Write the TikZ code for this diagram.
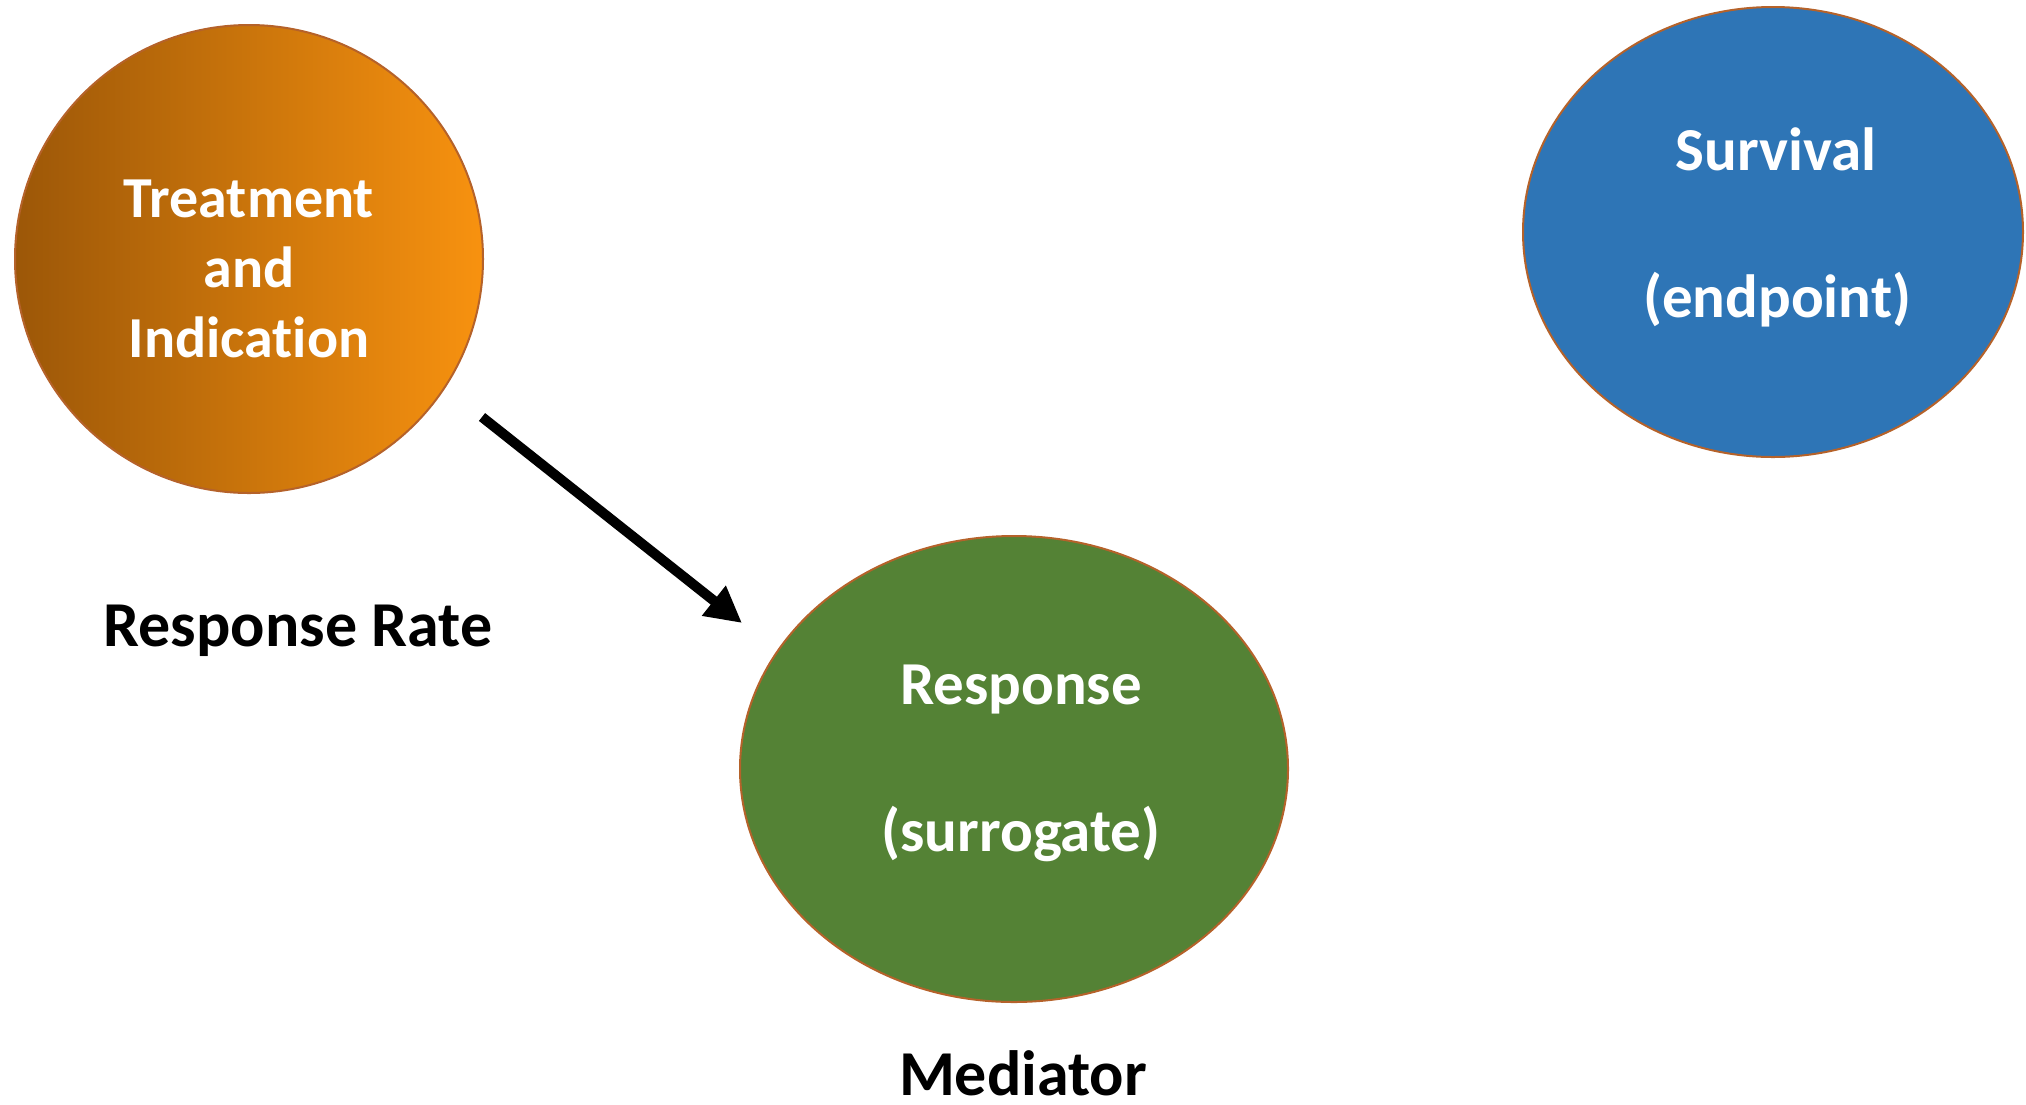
\documentclass[tikz,border=0pt]{standalone}
\usepackage{fontspec}
\setmainfont{Carlito}[Ligatures=NoCommon]
\usetikzlibrary{shapes.geometric,arrows.meta}
\definecolor{orangeDark}{HTML}{9C5708}
\definecolor{orangeLight}{HTML}{F8920F}
\definecolor{blueFill}{HTML}{2E75B6}
\definecolor{greenFill}{HTML}{548235}
\definecolor{rimBrown}{HTML}{B5622A}
\tikzset{
  bubble/.style={ellipse, draw=rimBrown, line width=2pt, inner sep=0pt},
  intext/.style={anchor=base, text=white, inner sep=0pt,
    font=\fontsize{58}{70}\selectfont\bfseries},
  bigtext/.style={intext, font=\fontsize{61}{73}\selectfont\bfseries},
  outtext/.style={anchor=base, text=black, inner sep=0pt,
    font=\fontsize{64}{77}\selectfont\bfseries},
  flow/.style={line width=10pt, -{Triangle[length=36pt,width=36pt]}}
}
\begin{document}
\begin{tikzpicture}[x=1pt,y=-1pt]
\useasboundingbox (0,0) rectangle (2026,1104);

% treatment circle with horizontal gradient
\node[bubble, left color=orangeDark, right color=orangeLight,
      minimum width=468pt, minimum height=468pt] (treat) at (249,259) {};
\node[intext] (treat1) at (249,217) {Treatment};
\node[intext] (treat2) at (249,287) {and};
\node[intext] (treat3) at (249,357) {Indication};

% endpoint ellipse
\node[bubble, fill=blueFill, minimum width=500pt, minimum height=450pt]
  (surv) at (1773,232) {};
\node[bigtext] (surv1) at (1776,170) {Survival};
\node[bigtext] (surv2) at (1777,317) {(endpoint)};

% surrogate ellipse
\node[bubble, fill=greenFill, minimum width=548pt, minimum height=466pt]
  (resp) at (1014,769) {};
\node[bigtext] (resp1) at (1021,704) {Response};
\node[bigtext] (resp2) at (1021,851) {(surrogate)};

% captions
\node[outtext] (rate) at (298,646) {Response Rate};
\node[outtext] (med) at (1023,1095) {Mediator};

% effect arrow
\coordinate (arrowTail) at (482,417);
\coordinate (arrowTip) at (742,623);
\draw[flow] (arrowTail) -- (arrowTip);
\end{tikzpicture}
\end{document}
